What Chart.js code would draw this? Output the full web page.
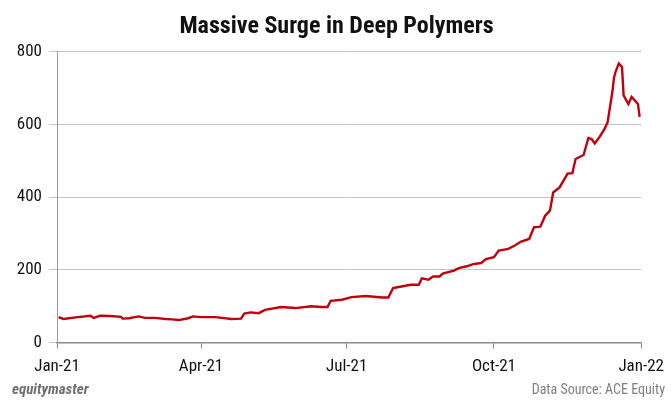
<!DOCTYPE html>
<html>
<head>
<meta charset="utf-8">
<title>Massive Surge in Deep Polymers</title>
<script src="https://cdn.jsdelivr.net/npm/chart.js@4.4.1/dist/chart.umd.min.js"></script>
<style>
  html, body { margin: 0; padding: 0; background: #fff; }
  #wrap { width: 672px; height: 408px; position: relative; }
</style>
</head>
<body>
<div id="wrap"><canvas id="priceChart"></canvas></div>
<script>
// --- Data ---
const dates = [
    '2021-01-02', '2021-01-05', '2021-01-14', '2021-01-22', '2021-01-24', '2021-01-28',
    '2021-02-03', '2021-02-10', '2021-02-11', '2021-02-15', '2021-02-21', '2021-02-25',
    '2021-03-03', '2021-03-10', '2021-03-14', '2021-03-18', '2021-03-24', '2021-03-27',
    '2021-04-01', '2021-04-10', '2021-04-20', '2021-04-26', '2021-04-28',
    '2021-05-02', '2021-05-07', '2021-05-11', '2021-05-21', '2021-05-30',
    '2021-06-09', '2021-06-15', '2021-06-19', '2021-06-21', '2021-06-28',
    '2021-07-04', '2021-07-13', '2021-07-23', '2021-07-27', '2021-07-30',
    '2021-08-05', '2021-08-10', '2021-08-15', '2021-08-17', '2021-08-21', '2021-08-24',
    '2021-08-28', '2021-08-30',
    '2021-09-06', '2021-09-09', '2021-09-14', '2021-09-18', '2021-09-23', '2021-09-26',
    '2021-10-01', '2021-10-04', '2021-10-10', '2021-10-14', '2021-10-18', '2021-10-23',
    '2021-10-26', '2021-10-30',
    '2021-11-02', '2021-11-05', '2021-11-07', '2021-11-11', '2021-11-16', '2021-11-19',
    '2021-11-21', '2021-11-26', '2021-11-29',
    '2021-12-01', '2021-12-03', '2021-12-06', '2021-12-09', '2021-12-11',
    '2021-12-14', '2021-12-15', '2021-12-16', '2021-12-18', '2021-12-20', '2021-12-21',
    '2021-12-24', '2021-12-26', '2021-12-29', '2021-12-30', '2021-12-31'
];
const prices = [
    70, 65, 70, 74, 68, 74,
    73, 71, 66, 67, 72, 68,
    68, 65, 64, 62, 67, 72,
    70, 70, 65, 66, 80,
    83, 81, 90, 98, 95,
    100, 98, 98, 115, 118,
    125, 128, 124, 124, 150,
    155, 159, 159, 177, 173, 182,
    182, 190,
    198, 205, 210, 216, 219, 230,
    235, 253, 258, 267, 278, 285,
    317, 319,
    349, 363, 413, 427, 465, 466,
    505, 516, 563,
    560, 548, 566, 587, 606,
    690, 729, 745, 768, 758, 680,
    656, 676, 661, 656, 621
];
const tickDates = ['2021-01-01', '2021-04-01', '2021-07-01', '2021-10-01', '2022-01-01'];
const tickLabels = ['Jan-21', 'Apr-21', 'Jul-21', 'Oct-21', 'Jan-22'];
const yTicks = [0, 200, 400, 600, 800];

// days since 1 Jan 2021
const DAY = 86400000;
const start = Date.UTC(2021, 0, 1);
const toDay = s => {
    const [y, m, d] = s.split('-').map(Number);
    return (Date.UTC(y, m - 1, d) - start) / DAY;
};
const tickDays = tickDates.map(toDay);
const points = dates.map((d, i) => ({ x: toDay(d), y: prices[i] }));

const FONT = "'Roboto Condensed', 'Liberation Sans Narrow', Roboto, sans-serif";

// footer texts: brand on the left, source on the right
const footerPlugin = {
    id: 'footer',
    afterDraw(chart) {
        const ctx = chart.ctx;
        ctx.save();
        ctx.textBaseline = 'middle';
        ctx.fillStyle = '#6f6f6f';
        ctx.font = `italic bold 15px ${FONT}`;
        ctx.textAlign = 'left';
        ctx.fillText('equitymaster', 12, 390);
        ctx.font = `14px ${FONT}`;
        ctx.fillStyle = '#808080';
        ctx.textAlign = 'right';
        ctx.fillText('Data Source: ACE Equity', 665, 390);
        ctx.restore();
    }
};

const canvas = document.getElementById('priceChart');
new Chart(canvas.getContext('2d'), {
    type: 'line',
    data: {
        datasets: [{
            label: 'Deep Polymers',
            data: points,
            borderColor: '#c0000c',
            borderWidth: 2.4,
            pointRadius: 0,
            tension: 0,
            fill: false
        }]
    },
    options: {
        responsive: true,
        maintainAspectRatio: false,
        animation: false,
        layout: { padding: { left: 12, right: 11, top: 6, bottom: 23 } },
        plugins: {
            legend: { display: false },
            tooltip: { enabled: false },
            title: {
                display: true,
                text: 'Massive Surge in Deep Polymers',
                color: '#111',
                font: { family: FONT, size: 24, weight: 'bold' },
                padding: { top: 7, bottom: 10 }
            }
        },
        scales: {
            x: {
                type: 'linear',
                min: tickDays[0],
                max: tickDays[tickDays.length - 1],
                afterBuildTicks: axis => { axis.ticks = tickDays.map(v => ({ value: v })); },
                ticks: {
                    autoSkip: false,
                    maxRotation: 0,
                    color: '#111',
                    font: { family: FONT, size: 17 },
                    padding: 8,
                    callback: (v) => tickLabels[tickDays.indexOf(v)]
                },
                grid: { drawOnChartArea: false, color: '#8a8a8a', tickLength: 6 },
                border: { color: '#8a8a8a', width: 1.5 }
            },
            y: {
                min: 0,
                max: 800,
                afterBuildTicks: axis => { axis.ticks = yTicks.map(v => ({ value: v })); },
                afterFit: axis => { axis.width = 45; },
                ticks: {
                    color: '#111',
                    font: { family: FONT, size: 17 },
                    padding: 7
                },
                grid: { color: '#c4c4c4', tickLength: 8 },
                border: { color: '#9a9a9a' }
            }
        }
    },
    plugins: [footerPlugin]
});
</script>
</body>
</html>
